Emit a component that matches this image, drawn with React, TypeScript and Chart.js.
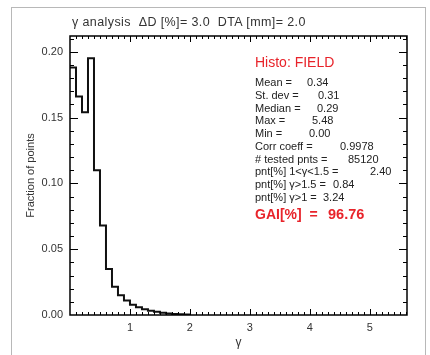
import React, { useEffect, useRef } from "react";
import { Chart, registerables } from "chart.js";

Chart.register(...registerables);

// ---- data ----
const binEdges = [0.0, 0.1, 0.2, 0.3, 0.4, 0.5, 0.6, 0.7, 0.8, 0.9, 1.0, 1.1, 1.2, 1.3, 1.4, 1.5, 1.6, 1.7, 1.8, 1.9, 2.0];
const fractions = [0.188, 0.166, 0.154, 0.195, 0.110, 0.068, 0.035, 0.0215, 0.015, 0.011, 0.0078, 0.0058, 0.0043, 0.0032, 0.0024, 0.0017, 0.0012, 0.0008, 0.0005, 0.0003, 0.0];
const xTickValues = [1, 2, 3, 4, 5];
const yTickValues = [0.0, 0.05, 0.1, 0.15, 0.2];
const chartTitle = "\u03b3 analysis  \u0394D [%]= 3.0  DTA [mm]= 2.0";
const xTitle = "\u03b3";
const yTitle = "Fraction of points";
const histoTitle = "Histo: FIELD";
const statLabels = ["Mean =", "St. dev =", "Median =", "Max =", "Min =", "Corr coeff =", "# tested pnts =", "pnt[%] 1<\u03b3<1.5 =", "pnt[%] \u03b3>1.5 =", "pnt[%] \u03b3>1 ="];
const statValues = ["0.34", "0.31", "0.29", "5.48", "0.00", "0.9978", "85120", "2.40", "0.84", "3.24"];
const gaiLabel = "GAI[%]  =";
const gaiValue = "96.76";

// layout (not data)
const statValueX = [307, 318, 317, 312, 309, 340, 348, 370, 333, 323];

const FONT = "'Liberation Sans', Arial, Helvetica, sans-serif";

const idlAxes = {
  id: "idlAxes",
  afterDraw(chart: any) {
    const { ctx, chartArea: a } = chart;
    const xs = chart.scales.x;
    const ys = chart.scales.y;
    ctx.save();
    ctx.strokeStyle = "#000";
    ctx.lineWidth = 1;
    ctx.beginPath();
    for (let i = 1; i * 0.1 < xs.max; i++) {
      const v = i * 0.1;
      const px = Math.round(xs.getPixelForValue(v)) + 0.5;
      const major = i % 10 === 0;
      const len = major ? 6 : 3;
      ctx.moveTo(px, a.bottom);
      ctx.lineTo(px, a.bottom - len);
      ctx.moveTo(px, a.top);
      ctx.lineTo(px, a.top + len);
    }
    for (let i = 1; i * 0.01 < ys.max; i++) {
      const v = i * 0.01;
      const py = Math.round(ys.getPixelForValue(v)) + 0.5;
      const major = i % 5 === 0;
      const len = major ? 8 : 4;
      ctx.moveTo(a.left, py);
      ctx.lineTo(a.left + len, py);
      ctx.moveTo(a.right, py);
      ctx.lineTo(a.right - len, py);
    }
    ctx.stroke();
    ctx.lineWidth = 1.5;
    ctx.strokeRect(a.left, a.top, a.right - a.left, a.bottom - a.top);
    ctx.restore();
  },
};

export default function App() {
  const ref = useRef<HTMLCanvasElement | null>(null);

  useEffect(() => {
    document.body.style.margin = "0";
    const canvas = ref.current;
    if (!canvas) return;
    const points = binEdges.map((x, i) => ({ x, y: fractions[i] }));
    const chart = new Chart(canvas, {
      type: "line",
      data: {
        datasets: [
          {
            data: points,
            stepped: "before",
            borderColor: "#111",
            borderWidth: 2,
            pointRadius: 0,
            fill: false,
          },
        ],
      },
      options: {
        animation: false,
        responsive: false,
        maintainAspectRatio: false,
        layout: { padding: { left: 0, top: 36, right: 23, bottom: 0 } },
        plugins: {
          legend: { display: false },
          tooltip: { enabled: false },
          title: { display: false },
        },
        scales: {
          x: {
            type: "linear",
            min: 0,
            max: 5.62,
            afterBuildTicks: (s: any) => {
              s.ticks = xTickValues.map((v) => ({ value: v }));
            },
            afterFit: (s: any) => {
              s.height = 40;
            },
            grid: { display: false, drawTicks: false },
            border: { display: false },
            ticks: {
              padding: 6,
              color: "#333",
              font: { family: FONT, size: 11 },
              callback: (v: any) => String(v),
              maxRotation: 0,
              autoSkip: false,
            },
            title: {
              display: true,
              text: xTitle,
              color: "#333",
              font: { family: FONT, size: 12 },
              padding: { top: 0, bottom: 5 },
            },
          },
          y: {
            type: "linear",
            min: 0,
            max: 0.212,
            afterBuildTicks: (s: any) => {
              s.ticks = yTickValues.map((v) => ({ value: v }));
            },
            afterFit: (s: any) => {
              s.width = 70;
            },
            grid: { display: false, drawTicks: false },
            border: { display: false },
            ticks: {
              padding: 7,
              color: "#333",
              font: { family: FONT, size: 11 },
              callback: (v: any) => Number(v).toFixed(2),
              autoSkip: false,
            },
            title: {
              display: true,
              text: yTitle,
              color: "#333",
              font: { family: FONT, size: 11 },
              padding: { top: 24, bottom: 0 },
            },
          },
        },
      },
      plugins: [idlAxes],
    });
    return () => chart.destroy();
  }, []);

  const lineTop = (c: number, h: number) => c - h / 2;

  return (
    <div style={{ position: "relative", width: 430, height: 355, background: "#fff", overflow: "hidden", fontFamily: FONT }}>
      <div
        style={{
          position: "absolute",
          left: 11,
          top: 7,
          width: 415,
          height: 360,
          border: "1.5px solid #b8b8b8",
          boxSizing: "border-box",
        }}
      />
      <canvas ref={ref} width={430} height={355} style={{ position: "absolute", left: 0, top: 0, width: 430, height: 355 }} />
      <div
        style={{
          position: "absolute",
          left: 72,
          top: lineTop(22, 16),
          height: 16,
          lineHeight: "16px",
          fontSize: 12.5,
          letterSpacing: 0.4,
          color: "#333",
          whiteSpace: "pre",
        }}
      >
        {chartTitle}
      </div>
      <div
        style={{
          position: "absolute",
          left: 255,
          top: lineTop(62, 16),
          height: 16,
          lineHeight: "16px",
          fontSize: 14,
          color: "#e8232a",
          whiteSpace: "pre",
        }}
      >
        {histoTitle}
      </div>
      {statLabels.map((lab, i) => {
        const c = 82.3 + 12.7 * i;
        return (
          <React.Fragment key={i}>
            <div
              style={{
                position: "absolute",
                left: 255,
                top: lineTop(c, 14),
                height: 14,
                lineHeight: "14px",
                fontSize: 11,
                color: "#222",
                whiteSpace: "pre",
              }}
            >
              {lab}
            </div>
            <div
              style={{
                position: "absolute",
                left: statValueX[i],
                top: lineTop(c, 14),
                height: 14,
                lineHeight: "14px",
                fontSize: 11,
                color: "#222",
                whiteSpace: "pre",
              }}
            >
              {statValues[i]}
            </div>
          </React.Fragment>
        );
      })}
      <div
        style={{
          position: "absolute",
          left: 255,
          top: lineTop(214, 16),
          height: 16,
          lineHeight: "16px",
          fontSize: 14,
          fontWeight: "bold",
          color: "#e8232a",
          whiteSpace: "pre",
        }}
      >
        {gaiLabel}
      </div>
      <div
        style={{
          position: "absolute",
          left: 328,
          top: lineTop(214, 16),
          height: 16,
          lineHeight: "16px",
          fontSize: 14.5,
          fontWeight: "bold",
          color: "#e8232a",
          whiteSpace: "pre",
        }}
      >
        {gaiValue}
      </div>
    </div>
  );
}
